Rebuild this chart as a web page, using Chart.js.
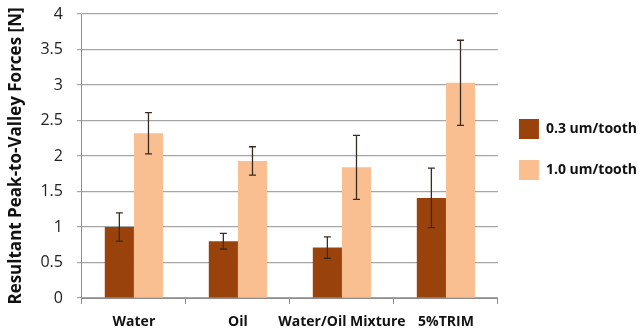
<!DOCTYPE html>
<html>
<head>
<meta charset="utf-8">
<script src="https://cdn.jsdelivr.net/npm/chart.js@4.4.0/dist/chart.umd.min.js"></script>
<style>
  html, body { margin: 0; padding: 0; background: #fff; }
  #wrap { width: 639px; height: 334px; }
</style>
</head>
<body>
<div id="wrap"><canvas id="myChart" width="639" height="334"></canvas></div>
<script>
var categories = ["Water", "Oil", "Water/Oil Mixture", "5%TRIM"]
var seriesNames = ["0.3 um/tooth", "1.0 um/tooth"]
var fine = [1.0, 0.80, 0.71, 1.41]
var fineErr = [0.20, 0.11, 0.15, 0.42]
var coarse = [2.32, 1.93, 1.84, 3.03]
var coarseErr = [0.29, 0.20, 0.45, 0.60]
var yTicks = [0, 0.5, 1, 1.5, 2, 2.5, 3, 3.5, 4]

var errors = [fineErr, coarseErr]

// draws the whisker for each bar from the y scale
var errorBars = {
    id: 'errorBars',
    afterDatasetsDraw(chart){
        var ctx = chart.ctx
        var y = chart.scales.y
        ctx.save()
        ctx.strokeStyle = '#3b2a20'
        ctx.lineWidth = 1.3
        chart.data.datasets.forEach((ds, i) => {
            var meta = chart.getDatasetMeta(i)
            meta.data.forEach((bar, j) => {
                var v = ds.data[j], e = errors[i][j]
                var top = y.getPixelForValue(v + e)
                var bot = y.getPixelForValue(v - e)
                ctx.beginPath()
                ctx.moveTo(bar.x, top); ctx.lineTo(bar.x, bot)
                ctx.moveTo(bar.x - 3.5, top); ctx.lineTo(bar.x + 3.5, top)
                ctx.moveTo(bar.x - 3.5, bot); ctx.lineTo(bar.x + 3.5, bot)
                ctx.stroke()
            })
        })
        ctx.restore()
    }
}

var ctx = document.getElementById("myChart").getContext("2d")
var myChart = new Chart(ctx, {
    type: 'bar',
    data: {
        labels: categories,
        datasets: [{
            label: seriesNames[0],
            data: fine,
            backgroundColor: '#9a420c',
            categoryPercentage: 0.56,
            barPercentage: 1.0
        }, {
            label: seriesNames[1],
            data: coarse,
            backgroundColor: '#fabf90',
            categoryPercentage: 0.56,
            barPercentage: 1.0
        }]
    },
    options: {
        responsive: false,
        animation: false,
        layout: { padding: { top: 0, right: -8, left: 2, bottom: 0 } },
        plugins: {
            tooltip: { enabled: false },
            legend: {
                position: 'right',
                align: 'start',
                title: {
                    display: true,
                    text: ' ',
                    padding: { top: 86, bottom: 0 },
                    font: { size: 10 }
                },
                labels: {
                    boxWidth: 20,
                    boxHeight: 20,
                    padding: 21,
                    color: '#111',
                    font: { family: 'Open Sans', size: 14, weight: 'bold' }
                }
            }
        },
        scales: {
            x: {
                grid: { drawOnChartArea: false, color: '#8c8c8c', tickLength: 6 },
                border: { color: '#8c8c8c' },
                afterFit(scale){ scale.height = 36 },
                ticks: {
                    color: '#111',
                    padding: 10,
                    maxRotation: 0,
                    autoSkip: false,
                    font: { family: 'Open Sans', size: 14, weight: 'bold' }
                }
            },
            y: {
                min: 0,
                max: 4,
                afterBuildTicks(scale){ scale.ticks = yTicks.map(v => ({ value: v })) },
                afterFit(scale){ scale.paddingTop = 14; scale.paddingBottom = 0 },
                grid: { color: '#a6a6a6', lineWidth: 1.2, tickLength: 5 },
                border: { color: '#8c8c8c' },
                ticks: {
                    color: '#222',
                    padding: 14,
                    callback: v => String(v),
                    font: { family: 'Open Sans', size: 16 }
                },
                title: {
                    display: true,
                    text: 'Resultant Peak-to-Valley Forces [N]',
                    color: '#111',
                    padding: { top: 4, bottom: 0 },
                    font: { family: 'Open Sans', size: 17, weight: 'bold' }
                }
            }
        }
    },
    plugins: [errorBars]
})
</script>
</body>
</html>
